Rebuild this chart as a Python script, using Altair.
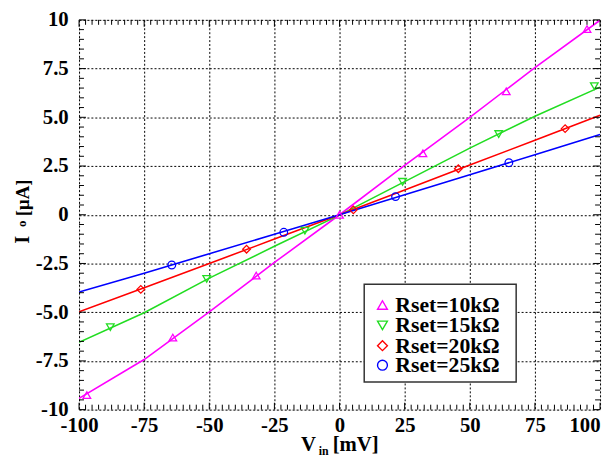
import altair as alt
import pandas as pd

series = ["Rset=10kΩ", "Rset=15kΩ", "Rset=20kΩ", "Rset=25kΩ"]
colors = ["#FF00FF", "#22DD22", "#FF0000", "#0000FF"]
shapes = ["triangle-up", "triangle-down", "diamond", "circle"]

# measured curves (V_in in mV, I_o in uA)
v_line = [-100, -75, -50, -25, 0, 25, 50, 75, 100]
i_10k = [-9.42, -7.43, -4.98, -2.45, 0.0, 2.53, 5.00, 7.55, 9.98]
i_15k = [-6.55, -5.03, -3.25, -1.62, -0.02, 1.70, 3.42, 5.05, 6.55]
i_20k = [-4.98, -3.75, -2.50, -1.25, 0.0, 1.27, 2.55, 3.82, 5.10]
i_25k = [-3.97, -3.00, -2.00, -1.00, 0.0, 1.03, 2.05, 3.08, 4.12]

# marker positions
mk_v_10k = [-97, -64, -32, 0, 32, 64, 95]
mk_i_10k = [-9.25, -6.30, -3.12, 0.0, 3.15, 6.33, 9.53]
mk_v_15k = [-88, -51, -13.3, 24.2, 61.1, 97.8]
mk_i_15k = [-5.77, -3.29, -0.82, 1.69, 4.14, 6.60]
mk_v_20k = [-76.3, -35.7, 5.3, 45.6, 86.6]
mk_i_20k = [-3.83, -1.77, 0.25, 2.36, 4.42]
mk_v_25k = [-64.4, -21.4, 21.5, 65.0]
mk_i_25k = [-2.58, -0.90, 0.93, 2.67]

x_major = [-100, -75, -50, -25, 0, 25, 50, 75, 100]
y_major = [-10, -7.5, -5, -2.5, 0, 2.5, 5, 7.5, 10]
x_minor = [-100 + 2.5 * k for k in range(81) if k % 10 != 0]
y_minor = [-10 + 0.5 * k for k in range(41) if k % 5 != 0]

W, H = 528, 395
FONT = "Liberation Serif"

lines = []
for s, ys in zip(series, [i_10k, i_15k, i_20k, i_25k]):
    for v, i in zip(v_line, ys):
        lines.append({"series": s, "v": v, "i": i})
lines = pd.DataFrame(lines)

marks = []
for s, vs, ys in zip(series, [mk_v_10k, mk_v_15k, mk_v_20k, mk_v_25k],
                     [mk_i_10k, mk_i_15k, mk_i_20k, mk_i_25k]):
    for v, i in zip(vs, ys):
        marks.append({"series": s, "v": v, "i": i})
marks = pd.DataFrame(marks)

xscale = alt.Scale(domain=[-100, 100], nice=False, zero=False)
yscale = alt.Scale(domain=[-10, 10], nice=False, zero=False)

x_axis = alt.Axis(values=x_major, title=None, grid=True, ticks=False, domain=False,
                  labelFont=FONT, labelFontSize=21, labelFontWeight="bold", labelColor="black",
                  labelPadding=5, gridColor="black", gridDash=[2, 2], gridOpacity=1, gridWidth=1,
                  labelExpr="'' + datum.value", labelFlush=False, labelOverlap=False,
                  labelAlign={"condition": {"test": "datum.value == 100", "value": "right"},
                              "value": "center"},
                  labelBound=False)
y_axis = alt.Axis(values=y_major, title=None, grid=True, ticks=False, domain=False,
                  labelFont=FONT, labelFontSize=21, labelFontWeight="bold", labelColor="black",
                  labelPadding=11, gridColor="black", gridDash=[2, 2], gridOpacity=1, gridWidth=1,
                  labelExpr="datum.value == 0 ? '0' : (abs(datum.value) == 10 ? '' + datum.value : (datum.value < 0 ? '-' : '') + format(abs(datum.value), '.1f'))",
                  labelFlush=False, labelOverlap=False)

color_scale = alt.Scale(domain=series, range=colors)
shape_scale = alt.Scale(domain=series, range=shapes)

line_layer = alt.Chart(lines).mark_line(strokeWidth=1.6, clip=True).encode(
    x=alt.X("v:Q", scale=xscale, axis=x_axis),
    y=alt.Y("i:Q", scale=yscale, axis=y_axis),
    stroke=alt.Stroke("series:N", scale=color_scale, legend=None),
    detail="series:N",
)

point_layer = alt.Chart(marks).mark_point(filled=False, size=60, strokeWidth=1.3, opacity=1).encode(
    x=alt.X("v:Q", scale=xscale),
    y=alt.Y("i:Q", scale=yscale),
    color=alt.Color("series:N", scale=color_scale, legend=None),
    shape=alt.Shape("series:N", scale=shape_scale, legend=None),
)

tick_x = pd.DataFrame({"v": x_minor})
tick_xM = pd.DataFrame({"v": x_major})
tick_y = pd.DataFrame({"i": y_minor})
tick_yM = pd.DataFrame({"i": y_major})


def xticks(df, length):
    bot = alt.Chart(df).mark_rule(color="black", strokeWidth=1).encode(
        x=alt.X("v:Q", scale=xscale), y=alt.value(H), y2=alt.value(H - length))
    top = alt.Chart(df).mark_rule(color="black", strokeWidth=1).encode(
        x=alt.X("v:Q", scale=xscale), y=alt.value(0), y2=alt.value(length))
    return [bot, top]


def yticks(df, length):
    left = alt.Chart(df).mark_rule(color="black", strokeWidth=1).encode(
        y=alt.Y("i:Q", scale=yscale), x=alt.value(0), x2=alt.value(length))
    right = alt.Chart(df).mark_rule(color="black", strokeWidth=1).encode(
        y=alt.Y("i:Q", scale=yscale), x=alt.value(W), x2=alt.value(W - length))
    return [left, right]


ticks = xticks(tick_x, 5) + xticks(tick_xM, 7) + yticks(tick_y, 5) + yticks(tick_yM, 7)

dummy = pd.DataFrame({"d": [0]})


def txt(text, x, y, size, angle=0, align="left", baseline="alphabetic"):
    return alt.Chart(dummy).mark_text(text=text, font=FONT, fontSize=size, fontWeight="bold",
                                      color="black", angle=angle, align=align,
                                      baseline=baseline).encode(x=alt.value(x), y=alt.value(y))


titles = [
    txt("V", 225, 437, 21),
    txt("in", 243, 440.5, 12),
    txt("[mV]", 257, 437, 21),
    txt("I", -51, 227, 21, angle=270, align="left"),
    txt("o", -54, 210, 13, angle=270, align="left"),
    txt("[μA]", -51, 199, 19, angle=270, align="left"),
]

# legend box
LX0, LX1, LY0, LY1 = 289, 443, 268, 367
legend_parts = [
    alt.Chart(dummy).mark_rect(fill="white", stroke="#333", strokeWidth=1.5).encode(
        x=alt.value(LX0), x2=alt.value(LX1), y=alt.value(LY0), y2=alt.value(LY1))
]
row_y = [289, 309.6, 330.2, 350]
for s, c, sh, ry in zip(series, colors, shapes, row_y):
    legend_parts.append(
        alt.Chart(dummy).mark_point(shape=sh, color=c, filled=False, size=100, strokeWidth=1.4,
                                    opacity=1).encode(x=alt.value(307.5), y=alt.value(ry)))
    legend_parts.append(txt(s, 320.5, ry + 7.2, 22))

chart = alt.layer(line_layer, point_layer, *ticks, *legend_parts, *titles).properties(
    width=W, height=H,
    autosize=alt.AutoSizeParams(type="none"),
    padding={"left": 72, "top": 9, "right": 3, "bottom": 46},
).configure_view(stroke="#222", strokeWidth=1.8).configure(background="white")

chart.save("out.html", embed_options={"renderer": "svg", "actions": False})
